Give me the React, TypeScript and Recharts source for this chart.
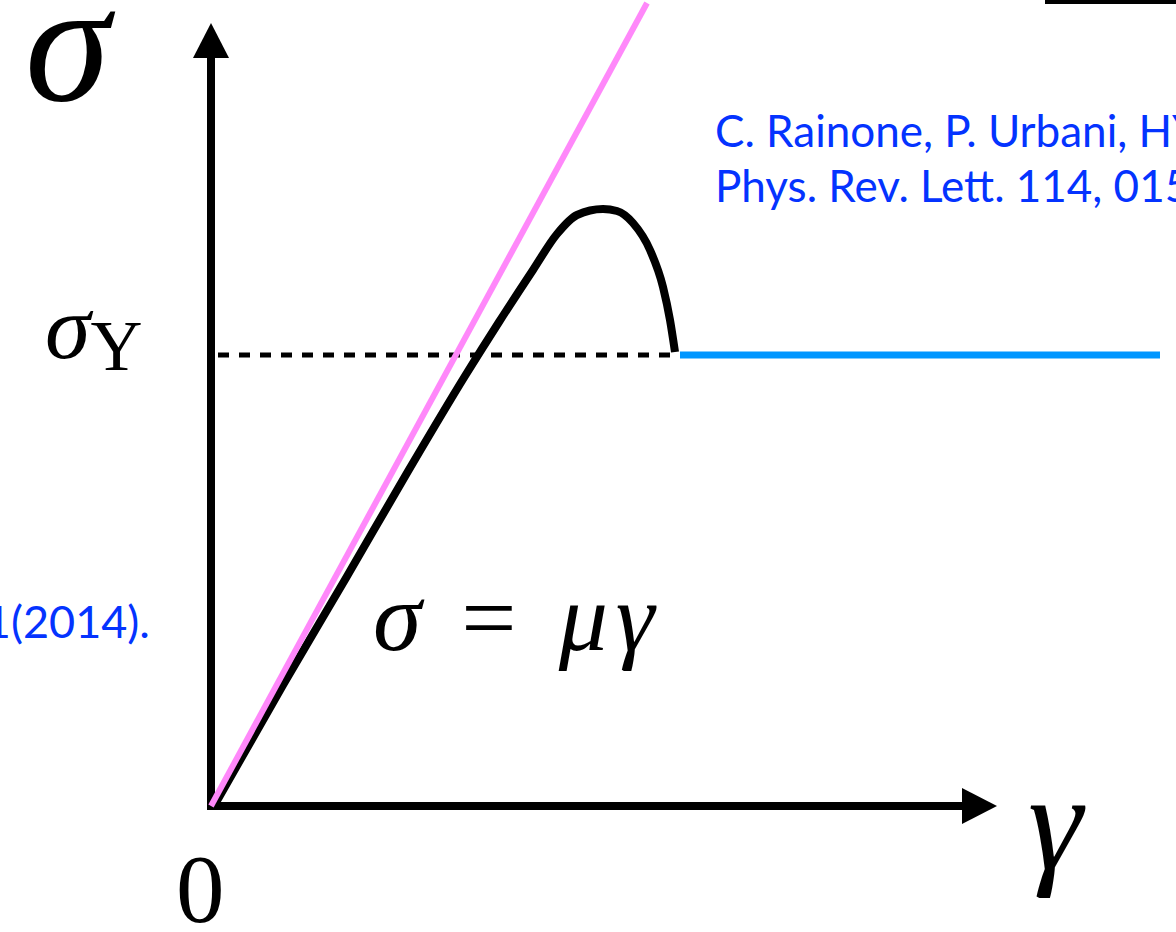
import React from 'react';
import {
  ComposedChart,
  Line,
  XAxis,
  YAxis,
  ReferenceLine,
  ReferenceDot,
  ReferenceArea,
} from 'recharts';

const W = 1176;
const H = 932;

// Strain γ and stress σ, in arbitrary units (1 unit ≈ 100 px on both axes)
const elasticGamma = [0, 4.36];
const elasticSigma = [0, 8.03];

const curveGamma = [0.03, 0.72, 1.35, 1.96, 2.54, 2.88, 3.22, 3.46, 3.66, 3.92, 4.06, 4.22, 4.39, 4.52, 4.59, 4.64];
const curveSigma = [0, 1.21, 2.28, 3.33, 4.3, 4.84, 5.36, 5.72, 5.91, 5.97, 5.95, 5.83, 5.56, 5.19, 4.86, 4.54];

const yieldStress = 4.51;
const dashedGamma = [0.07, 4.6];
const plateauGamma = [4.69, 9.49];

const gammaAxisEnd = 7.86;
const sigmaAxisEnd = 7.83;

const citationLines = ['C. Rainone, P. Urbani, HY', 'Phys. Rev. Lett. 114, 015701 (2015).'];
const leftCitation = '1(2014).';

const elasticData = elasticGamma.map((g, i) => ({ g, s: elasticSigma[i] }));
const curveData = curveGamma.map((g, i) => ({ g, s: curveSigma[i] }));
const dashedData = dashedGamma.map((g) => ({ g, s: yieldStress }));
const plateauData = plateauGamma.map((g) => ({ g, s: yieldStress }));

const MATH = '"Liberation Serif", "Times New Roman", serif';
const SANS = 'Lato, "Open Sans", sans-serif';
const BLUE_TEXT = '#0433ff';

const ArrowShape = (props: any) => {
  const { x1, y1, x2, y2 } = props;
  const dx = x2 - x1;
  const dy = y2 - y1;
  const len = Math.hypot(dx, dy) || 1;
  const ux = dx / len;
  const uy = dy / len;
  const head = 35;
  const half = 18;
  const bx = x2 - ux * head;
  const by = y2 - uy * head;
  const px = -uy;
  const py = ux;
  return (
    <g>
      <line x1={x1} y1={y1} x2={bx + ux * 2} y2={by + uy * 2} stroke="#000" strokeWidth={8} />
      <polygon
        points={`${x2},${y2} ${bx + px * half},${by + py * half} ${bx - px * half},${by - py * half}`}
        fill="#000"
      />
    </g>
  );
};

const textAt = (render: (x: number, y: number) => React.ReactElement) => (p: any) => render(p.cx, p.cy);

export default function App() {
  return (
    <div style={{ position: 'absolute', left: 0, top: 0, width: W, height: H, background: '#fff' }}>
      <ComposedChart width={W} height={H} margin={{ top: 0, right: 0, bottom: 126, left: 211 }}>
        <XAxis type="number" dataKey="g" domain={[0, 9.65]} hide />
        <YAxis type="number" dataKey="s" domain={[0, 8.06]} hide />

        <ReferenceArea x1={8.34} x2={9.65} y1={8.02} y2={8.06} fill="#000" fillOpacity={1} stroke="none" ifOverflow="visible" />

        <ReferenceLine segment={[{ x: 0, y: -0.04 }, { x: 0, y: sigmaAxisEnd }]} ifOverflow="visible" shape={ArrowShape} />
        <ReferenceLine segment={[{ x: -0.04, y: 0 }, { x: gammaAxisEnd, y: 0 }]} ifOverflow="visible" shape={ArrowShape} />

        <Line data={dashedData} dataKey="s" type="linear" stroke="#000" strokeWidth={5} strokeDasharray="11 10" dot={false} activeDot={false} isAnimationActive={false} />
        <Line data={plateauData} dataKey="s" type="linear" stroke="#0096ff" strokeWidth={7} dot={false} activeDot={false} isAnimationActive={false} />
        <Line data={curveData} dataKey="s" type="monotone" stroke="#000" strokeWidth={8} dot={false} activeDot={false} isAnimationActive={false} />
        <Line data={elasticData} dataKey="s" type="linear" stroke="#ff88fa" strokeWidth={6} dot={false} activeDot={false} isAnimationActive={false} />

        <ReferenceDot
          x={-1.86}
          y={7.06}
          r={0}
          ifOverflow="visible"
          shape={textAt((x, y) => (
            <text x={x} y={y} fontFamily={MATH} fontStyle="italic" fontSize={172} fill="#000">σ</text>
          ))}
        />
        <ReferenceDot
          x={-1.66}
          y={yieldStress}
          r={0}
          ifOverflow="visible"
          shape={textAt((x, y) => (
            <text x={x} y={y + 3} fontFamily={MATH} fill="#000">
              <tspan fontStyle="italic" fontSize={92}>σ</tspan>
              <tspan fontSize={72} dy={12}>Y</tspan>
            </text>
          ))}
        />
        <ReferenceDot
          x={-0.35}
          y={-1.16}
          r={0}
          ifOverflow="visible"
          shape={textAt((x, y) => (
            <text x={x} y={y} fontFamily={MATH} fontSize={97} fill="#000">0</text>
          ))}
        />
        <ReferenceDot
          x={8.17}
          y={-0.63}
          r={0}
          ifOverflow="visible"
          shape={textAt((x, y) => (
            <text x={x} y={y} fontFamily={MATH} fontStyle="italic" fontSize={138} fill="#000">γ</text>
          ))}
        />
        <ReferenceDot
          x={1.62}
          y={1.56}
          r={0}
          ifOverflow="visible"
          shape={textAt((x, y) => (
            <text x={x} y={y} fontFamily={MATH} fontSize={98} fill="#000">
              <tspan fontStyle="italic">σ</tspan>
              <tspan dx={40}>=</tspan>
              <tspan dx={42} fontStyle="italic">μ</tspan>
              <tspan dx={8} fontStyle="italic">γ</tspan>
            </text>
          ))}
        />
        <ReferenceDot
          x={5.04}
          y={6.59}
          r={0}
          ifOverflow="visible"
          shape={textAt((x, y) => (
            <text x={x} y={y} fontFamily={SANS} fontSize={44} fill={BLUE_TEXT}>
              <tspan x={x}>{citationLines[0]}</tspan>
              <tspan x={x} dy={55}>{citationLines[1]}</tspan>
            </text>
          ))}
        />
        <ReferenceDot
          x={-0.61}
          y={1.68}
          r={0}
          ifOverflow="visible"
          shape={textAt((x, y) => (
            <text x={x} y={y} fontFamily={SANS} fontSize={45} fill={BLUE_TEXT} textAnchor="end">{leftCitation}</text>
          ))}
        />
      </ComposedChart>
    </div>
  );
}
